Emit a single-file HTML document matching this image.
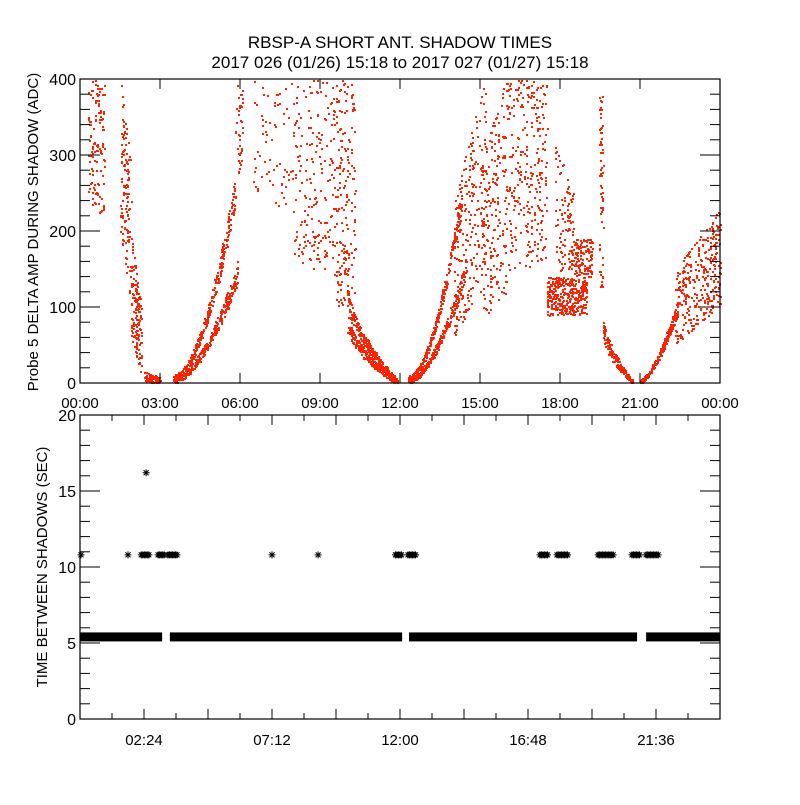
<!DOCTYPE html>
<html><head><meta charset="utf-8"><style>
body{margin:0;background:#fff}
svg text{font-family:"Liberation Sans",sans-serif;fill:#000}
</style></head><body>
<svg id="c" width="800" height="800" xmlns="http://www.w3.org/2000/svg">
<rect width="800" height="800" fill="#fff"/>
<text x="400" y="48" font-size="17" text-anchor="middle">RBSP-A SHORT ANT. SHADOW TIMES</text>
<text x="400" y="68" font-size="17" text-anchor="middle">2017 026 (01/26) 15:18 to 2017 027 (01/27) 15:18</text>
<g id="topPanel"></g>
<g id="botPanel"></g>
</svg>
<script>
// ---- data ----
const topTickLabels = ["00:00","03:00","06:00","09:00","12:00","15:00","18:00","21:00","00:00"];
const topYTicks = [0,100,200,300,400];
// clusters: [tStart,tEnd, loStart,hiStart, loEnd,hiEnd, count, curveExponent]
const ampClusters = [
 [0.3,0.9, 230,400, 220,400, 120, 1],
 [1.5,1.9, 200,400, 100,300, 120, 1],
 [1.9,2.3, 60,200, 10,100, 140, 1],
 [2.4,3.0, 2,15, 0,8, 80, 1],
 [3.5,5.9, 0,8, 130,160, 280, 1.7],
 [3.5,5.8, 2,12, 230,270, 280, 1.8],
 [5.8,6.1, 250,400, 300,400, 40, 1],
 [6.5,8.0, 250,400, 220,400, 70, 1],
 [8.0,9.5, 160,400, 140,400, 180, 1],
 [9.5,10.3, 100,400, 110,400, 180, 1],
 [10.0,11.9, 110,140, 0,5, 250, 0.55],
 [10.0,11.8, 75,100, 0,5, 250, 0.55],
 [12.3,14.5, 0,5, 140,170, 270, 1.7],
 [12.3,14.3, 2,10, 230,260, 270, 1.8],
 [14.0,15.2, 50,250, 150,400, 200, 1],
 [15.0,16.0, 80,300, 120,400, 200, 1],
 [16.0,17.5, 150,400, 150,400, 260, 1],
 [17.5,19.0, 90,140, 90,140, 350, 1],
 [17.8,18.5, 140,320, 150,250, 100, 1],
 [18.5,19.2, 140,190, 140,190, 120, 1],
 [19.45,19.6, 100,380, 120,380, 60, 1],
 [19.6,20.7, 60,90, 0,5, 170, 0.6],
 [21.0,22.4, 0,5, 90,110, 230, 1.5],
 [22.3,24.0, 50,150, 100,230, 300, 1]
];
const bandSegments = [[0,3.08],[3.37,12.08],[12.34,20.89],[21.23,24]];
const bandValue = 5.4;
const singleTimes = [0.0,1.8,7.2,8.93];
const clusterSpans = [[2.3,2.6],[2.93,3.19],[3.3,3.68],[11.83,12.08],[12.3,12.6],[17.25,17.55],[17.89,18.3],[19.43,20.03],[20.7,21.0],[21.23,21.68]];
const tenValue = 10.8;
const outlierTimes = [2.48];
const outlierValues = [16.2];
const botXTickLabels = ["02:24","07:12","12:00","16:48","21:36"];
const botYTicks = [0,5,10,15,20];

// ---- axes ----
const X0=80,X1=720;
const xs=t=>X0+t*(X1-X0)/24;
const yTop=v=>383-v*0.76;
const yBot=v=>719-v*15.2;
const NS="http://www.w3.org/2000/svg";
function mk(p,tag,a){const e=document.createElementNS(NS,tag);for(const k in a)e.setAttribute(k,a[k]);p.appendChild(e);return e;}
const topG=document.getElementById('topPanel'),botG=document.getElementById('botPanel');

let seed=1;function rnd(){seed=(seed*16807)%2147483647;return (seed-1)/2147483646;}
const dots=mk(topG,'g',{fill:'#ff2200'});


let d='';
ampClusters.forEach(c=>{
 const p=c[7]||1;
 for(let i=0;i<c[6];i++){
  const f=rnd();const t=c[0]+(c[1]-c[0])*f;
  const g=Math.pow(f,p);
  const lo=c[2]+(c[4]-c[2])*g,hi=c[3]+(c[5]-c[3])*g;
  const v=lo+(hi-lo)*rnd();
  const x=Math.round(xs(t)),y=Math.round(yTop(v));
  if(y<80||y>382)continue;
  d+=`M${x} ${y}h2v2h-2z`;
 }
});
mk(dots,'path',{d:d});

function frame(g,yt,ticksY,minorStep,maxV,yfn,name){
 const r=mk(g,'rect',{x:X0,y:yt,width:640,height:304,fill:'none',stroke:'#000','stroke-width':1.2});
 
 
 for(let v=0;v<=maxV+1e-9;v+=minorStep){
  const y=yfn(v);const maj=ticksY.some(t=>Math.abs(t-v)<1e-9);
  const L=maj?20:10;
  mk(g,'line',{x1:X0,x2:X0+L,y1:y,y2:y,stroke:'#000'});
  mk(g,'line',{x1:X1,x2:X1-L,y1:y,y2:y,stroke:'#000'});
 }
 ticksY.forEach(v=>{
  const t=mk(g,'text',{x:X0-4,y:yfn(v)+6,'font-size':16,'text-anchor':'end'});
  t.textContent=v;
  
  
 });
}
frame(topG,79,topYTicks,20,400,yTop,'top');
topTickLabels.forEach((s,i)=>{
 const x=X0+i*80;
 mk(topG,'line',{x1:x,x2:x,y1:383,y2:373,stroke:'#000'});
 mk(topG,'line',{x1:x,x2:x,y1:79,y2:89,stroke:'#000'});
 const t=mk(topG,'text',{x:x,y:408,'font-size':15,'text-anchor':'middle'});
 t.textContent=s;
 
 
});
const yt1=mk(topG,'text',{x:0,y:0,'font-size':15,'text-anchor':'middle',transform:'translate(38,232) rotate(-90)'});
yt1.textContent='Probe 5 DELTA AMP DURING SHADOW (ADC)';



frame(botG,415,botYTicks,1,20,yBot,'bottom');
for(let i=0;i<=20;i++){
 const x=X0+i*32;const maj=i%2==0;const L=maj?10:6;
 mk(botG,'line',{x1:x,x2:x,y1:719,y2:719-L,stroke:'#000'});
 mk(botG,'line',{x1:x,x2:x,y1:415,y2:415+L,stroke:'#000'});
}
botXTickLabels.forEach((s,i)=>{
 const t=mk(botG,'text',{x:X0+64+i*128,y:745,'font-size':15,'text-anchor':'middle'});
 t.textContent=s;
 
 
});
const yt2=mk(botG,'text',{x:0,y:0,'font-size':15,'text-anchor':'middle',transform:'translate(47,567) rotate(-90)'});
yt2.textContent='TIME BETWEEN SHADOWS (SEC)';



const marks=mk(botG,'g',{stroke:'#000','stroke-width':1});


function star(x,y){
 if(x<X0-1)return;
 mk(marks,'path',{d:`M${x-3.5} ${y}h7M${x} ${y-3.5}v7M${x-2.5} ${y-2.5}l5 5M${x-2.5} ${y+2.5}l5 -5`});
}
bandSegments.forEach(s=>{
 const r=mk(botG,'rect',{x:xs(s[0]),y:yBot(bandValue)-4.5,width:xs(s[1])-xs(s[0]),height:9,fill:'#000'});
 
 
});
singleTimes.forEach(t=>star(Math.max(xs(t),X0+1),yBot(tenValue)));
clusterSpans.forEach(s=>{for(let x=xs(s[0]);x<=xs(s[1]);x+=1.5)star(x,yBot(tenValue));});
outlierTimes.forEach((t,i)=>star(xs(t),yBot(outlierValues[i])));
</script>
</body></html>
